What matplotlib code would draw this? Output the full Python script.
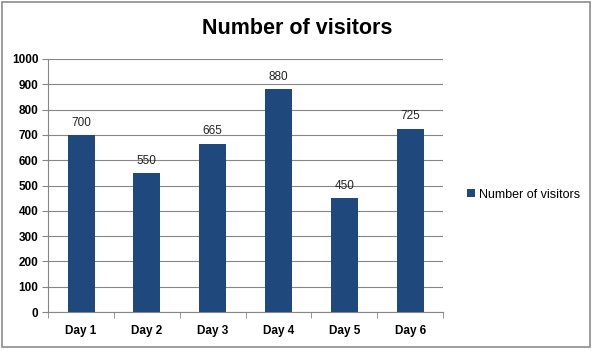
import matplotlib
matplotlib.use("Agg")
import matplotlib.pyplot as plt
from matplotlib.patches import Rectangle

categories = ["Day 1", "Day 2", "Day 3", "Day 4", "Day 5", "Day 6"]
visitors = [700, 550, 665, 880, 450, 725]
yticks = [0, 100, 200, 300, 400, 500, 600, 700, 800, 900, 1000]

plt.rcParams['font.family'] = ['Liberation Sans', 'DejaVu Sans']

fig = plt.figure(figsize=(5.94, 3.51), dpi=100)
fig.patches.append(Rectangle((0.004, 0.012), 0.99, 0.982, transform=fig.transFigure,
                             fill=False, edgecolor='#8c8c8c', linewidth=1.2))
ax = fig.add_axes([0.081, 0.111, 0.665, 0.721])
x = list(range(len(categories)))
bars = ax.bar(x, visitors, width=0.41, color='#1F497D', label='Number of visitors', zorder=3)
for xi, v in zip(x, visitors):
    ax.text(xi, v + 25, str(v), ha='center', va='bottom', fontsize=8.5, color='#222222')

ax.set_xlim(-0.5, len(categories) - 0.5)
ax.set_ylim(0, 1000)
ax.set_yticks(yticks)
ax.set_yticklabels([str(t) for t in yticks], fontsize=8.5, fontweight='bold')
ax.set_xticks(x)
ax.set_xticklabels(categories, fontsize=8.5, fontweight='bold')
ax.set_xticks([i - 0.5 for i in range(len(categories) + 1)], minor=True)
ax.tick_params(axis='x', which='major', length=0, pad=9)
ax.tick_params(axis='x', which='minor', length=4, color='#868686')
ax.tick_params(axis='y', length=4, color='#868686', pad=3)
ax.grid(axis='y', color='#868686', linewidth=0.8, zorder=0)
for s in ['top', 'right']:
    ax.spines[s].set_visible(False)
for s in ['left', 'bottom']:
    ax.spines[s].set_color('#868686')
ax.set_facecolor('white')

fig.text(0.5, 0.918, "Number of visitors", ha='center', va='center', fontsize=15.5, fontweight='bold')

fig.legend(handles=[bars], labels=['Number of visitors'], loc='center left',
           bbox_to_anchor=(0.768, 0.445), frameon=False, fontsize=9,
           handlelength=0.6, handleheight=0.6, handletextpad=0.3)

fig.savefig("out.png", dpi=100)
